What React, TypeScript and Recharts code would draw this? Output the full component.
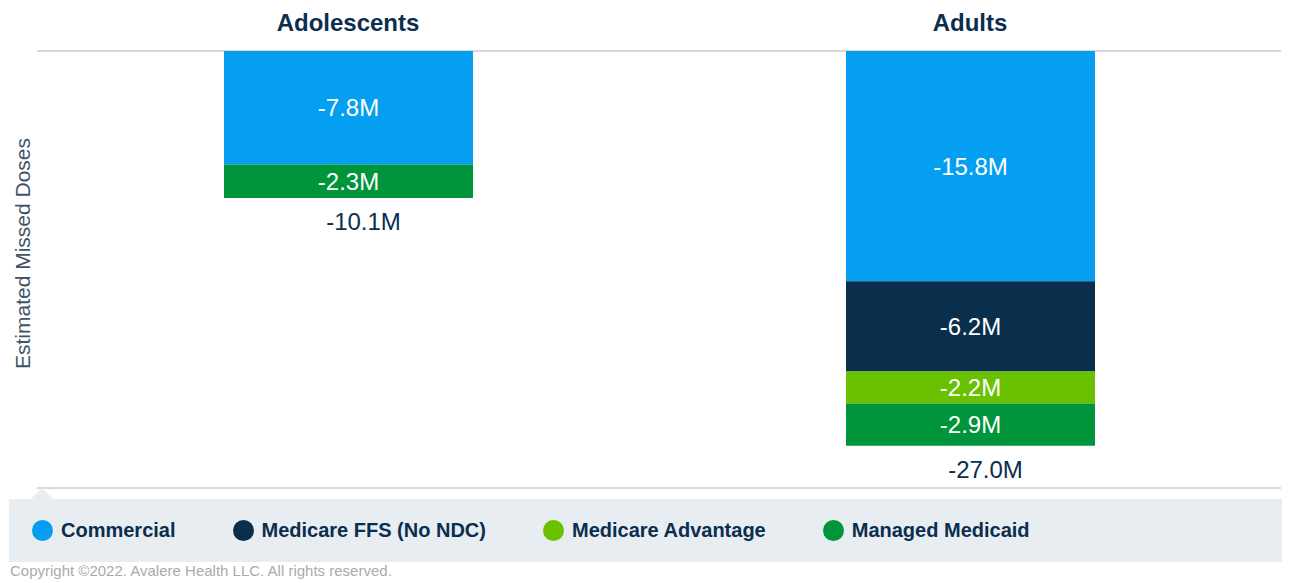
import React from 'react';
import { BarChart, Bar, XAxis, YAxis, CartesianGrid, Legend, LabelList } from 'recharts';

const categories = ['Adolescents', 'Adults'];
const commercial = [-7.8, -15.8];
const medicareFfs = [null, -6.2];
const medicareAdvantage = [null, -2.2];
const managedMedicaid = [-2.3, -2.9];
const totals = [-10.1, -27.0];
const yTicks = [0, -5, -10, -15, -20, -25, -30];

const seriesNames = ['Commercial', 'Medicare FFS (No NDC)', 'Medicare Advantage', 'Managed Medicaid'];
const seriesKeys = ['commercial', 'medicareFfs', 'medicareAdvantage', 'managedMedicaid'];
const seriesColors = ['#049FF1', '#0A2F4C', '#69C100', '#00953A'];

const NAVY = '#0B2E4E';

const chartData = categories.map((name, i) => ({
  name,
  commercial: commercial[i],
  medicareFfs: medicareFfs[i],
  medicareAdvantage: medicareAdvantage[i],
  managedMedicaid: managedMedicaid[i],
  total: totals[i],
}));

const fmt = (v: any) => (v === null || v === undefined || v === 0 ? '' : `${Number(v).toFixed(1)}M`);

// total sits just under the stack, nudged a bit right like the original
function TotalLabel(props: any) {
  const vb = props.viewBox || props;
  const x = vb.x ?? props.x;
  const y = vb.y ?? props.y;
  const w = vb.width ?? props.width;
  const h = vb.height ?? props.height;
  const bottom = Math.max(y, y + h);
  return (
    <text x={x + w / 2 + 15} y={bottom + 32} textAnchor="middle" fill={NAVY} fontSize={24}>
      {fmt(props.value)}
    </text>
  );
}

function YLabel(props: any) {
  const vb = props.viewBox;
  const cx = vb.x + 22;
  const cy = vb.y + vb.height / 2 - 16;
  return (
    <text
      x={cx}
      y={cy}
      transform={`rotate(-90 ${cx} ${cy})`}
      textAnchor="middle"
      dominantBaseline="central"
      fill="#3F5366"
      fontSize={21}
    >
      Estimated Missed Doses
    </text>
  );
}

function LegendBox() {
  return (
    <div style={{ position: 'relative', height: 74 }}>
      <div
        style={{
          position: 'absolute',
          left: 22,
          top: 0,
          width: 0,
          height: 0,
          borderLeft: '11px solid transparent',
          borderRight: '11px solid transparent',
          borderBottom: '11px solid #E8EDF2',
        }}
      />
      <div
        style={{
          position: 'absolute',
          left: 0,
          right: 0,
          top: 11,
          height: 63,
          background: '#E8EDF2',
          display: 'flex',
          alignItems: 'center',
          paddingLeft: 23,
          boxSizing: 'border-box',
        }}
      >
        {seriesNames.map((name, i) => (
          <div key={name} style={{ display: 'flex', alignItems: 'center', marginRight: 57 }}>
            <span
              style={{
                display: 'inline-block',
                width: 21,
                height: 21,
                borderRadius: '50%',
                background: seriesColors[i],
                marginRight: 8,
              }}
            />
            <span style={{ fontSize: 20, fontWeight: 700, color: NAVY }}>{name}</span>
          </div>
        ))}
      </div>
    </div>
  );
}

export default function App() {
  return (
    <div
      style={{
        position: 'absolute',
        left: 0,
        top: 0,
        width: 1291,
        height: 583,
        background: '#fff',
        fontFamily: '"Liberation Sans", Arial, Helvetica, sans-serif',
      }}
    >
      <BarChart
        width={1291}
        height={562}
        data={chartData}
        margin={{ top: 0, right: 10, left: 0, bottom: 0 }}
        barSize={249}
      >
        <CartesianGrid vertical={false} stroke="#D9D9D9" strokeWidth={2} />
        <XAxis
          dataKey="name"
          orientation="top"
          height={51}
          axisLine={false}
          tickLine={false}
          tickSize={0}
          tickMargin={20}
          tick={{ fontSize: 24, fontWeight: 700, fill: NAVY }}
        />
        <YAxis
          width={37}
          domain={[-30, 0]}
          ticks={yTicks}
          tick={false}
          axisLine={false}
          tickLine={false}
          label={<YLabel />}
        />
        <Legend
          verticalAlign="bottom"
          content={() => <LegendBox />}
          wrapperStyle={{ left: 9, width: 1273, bottom: 0 }}
        />
        {seriesKeys.map((key, i) => (
          <Bar
            key={key}
            dataKey={key}
            name={seriesNames[i]}
            stackId="a"
            fill={seriesColors[i]}
            isAnimationActive={false}
          >
            <LabelList dataKey={key} position="center" fill="#fff" fontSize={24} formatter={fmt} />
            {key === 'managedMedicaid' && <LabelList dataKey="total" content={<TotalLabel />} />}
          </Bar>
        ))}
      </BarChart>
      <div style={{ marginLeft: 10, fontSize: 15, color: '#ABABAB' }}>
        Copyright ©2022. Avalere Health LLC. All rights reserved.
      </div>
    </div>
  );
}
